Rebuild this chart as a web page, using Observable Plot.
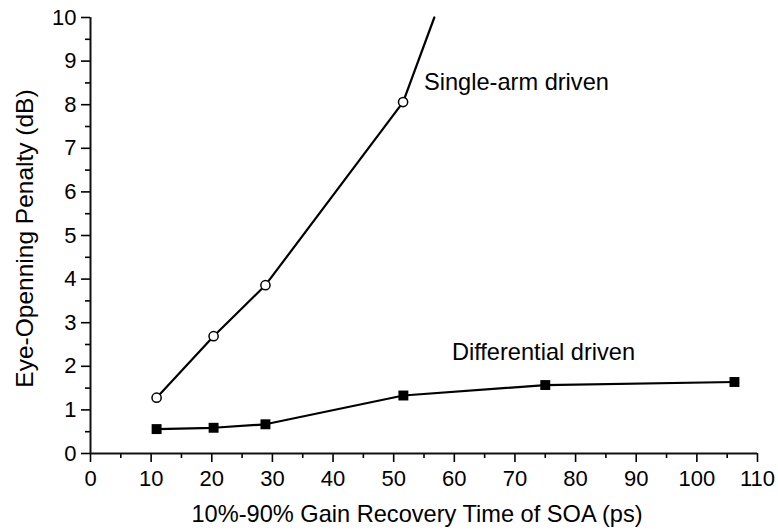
<!DOCTYPE html>
<html>
<head>
<meta charset="utf-8">
<script src="https://cdn.jsdelivr.net/npm/d3@7"></script>
<script src="https://cdn.jsdelivr.net/npm/@observablehq/plot@0.6"></script>
<style>
  html, body { margin: 0; padding: 0; background: #fff; }
</style>
</head>
<body>
<div id="chart"></div>
<script>
// Eye-opening penalty vs. 10%-90% gain recovery time of the SOA
const singleArmTime = [10.9, 20.3, 28.85, 51.55];
const singleArmPenalty = [1.28, 2.69, 3.86, 8.06];
// the single-arm curve keeps rising past the last measurement to the top of the axis
const singleArmTrendTime = [56.7];
const singleArmTrendPenalty = [10];

const differentialTime = [10.9, 20.3, 28.85, 51.6, 75, 106.2];
const differentialPenalty = [0.56, 0.59, 0.67, 1.33, 1.57, 1.64];

const xTicks = d3.range(0, 111, 10);
const xMinorTicks = d3.range(5, 110, 10);
const yTicks = d3.range(0, 11, 1);
const yMinorTicks = d3.range(0.5, 10, 1);

const seriesNames = ["Single-arm driven", "Differential driven"];
const seriesNameTime = [55, 59.6];
const seriesNamePenalty = [8.33, 2.15];

const xTitle = "10%-90% Gain Recovery Time of SOA (ps)";
const yTitle = "Eye-Openning Penalty (dB)";

const singleArm = singleArmTime.map((t, i) => ({time: t, penalty: singleArmPenalty[i]}));
const singleArmCurve = singleArm.concat(
  singleArmTrendTime.map((t, i) => ({time: t, penalty: singleArmTrendPenalty[i]}))
);
const differential = differentialTime.map((t, i) => ({time: t, penalty: differentialPenalty[i]}));
const nameLabels = seriesNames.map((s, i) => ({text: s, time: seriesNameTime[i], penalty: seriesNamePenalty[i]}));

const font = "'Liberation Sans', Arial, Helvetica, sans-serif";

const chart = Plot.plot({
  width: 778,
  height: 531,
  marginLeft: 90,
  marginRight: 21,
  marginTop: 17,
  marginBottom: 78,
  style: {fontFamily: font, fontSize: "22px", color: "#000", background: "#fff"},
  x: {domain: [0, 110]},
  y: {domain: [0, 10]},
  marks: [
    // axes: major ticks with labels, minor ticks without
    Plot.axisX({ticks: xTicks, tickSize: 9, tickPadding: 8, strokeWidth: 1.6, fontSize: 22, label: null, tickFormat: d => String(d)}),
    Plot.axisX({ticks: xMinorTicks, tickSize: 5, strokeWidth: 1.6, fill: "none", label: null}),
    Plot.axisY({ticks: yTicks, tickSize: 9, tickPadding: 5, strokeWidth: 1.6, fontSize: 22, label: null, tickFormat: d => String(d)}),
    Plot.axisY({ticks: yMinorTicks, tickSize: 5, strokeWidth: 1.6, fill: "none", label: null}),
    Plot.ruleY([0], {strokeWidth: 2, stroke: "#111"}),
    Plot.ruleX([0], {strokeWidth: 2, stroke: "#111"}),

    // single-arm driven: open circles
    Plot.line(singleArmCurve, {x: "time", y: "penalty", stroke: "#000", strokeWidth: 2.2}),
    Plot.dot(singleArm, {x: "time", y: "penalty", r: 4.6, fill: "#fff", stroke: "#000", strokeWidth: 1.5}),

    // differential driven: filled squares
    Plot.line(differential, {x: "time", y: "penalty", stroke: "#000", strokeWidth: 2.2}),
    Plot.dot(differential, {x: "time", y: "penalty", symbol: "square", r: 5.6, fill: "#000", stroke: "none"}),

    // series names
    Plot.text(nameLabels, {x: "time", y: "penalty", text: "text", textAnchor: "start", lineAnchor: "bottom", fontSize: 23.6, fill: "#000"}),

    // axis titles
    Plot.text([xTitle], {text: d => d, frameAnchor: "bottom", lineAnchor: "bottom", dy: 68, dx: -7, fontSize: 23.6, fill: "#000"}),
    Plot.text([yTitle], {text: d => d, frameAnchor: "left", rotate: -90, lineAnchor: "bottom", textAnchor: "middle", dx: -58, dy: 3, fontSize: 24.5, fill: "#000"})
  ]
});

document.getElementById("chart").appendChild(chart);
</script>
</body>
</html>
